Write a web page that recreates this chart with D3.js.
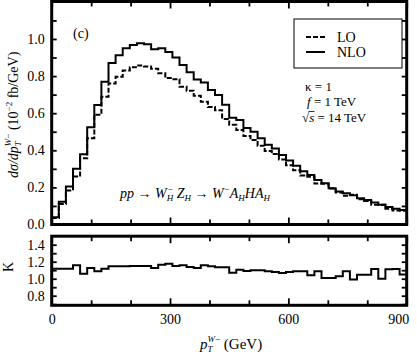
<!DOCTYPE html>
<html>
<head>
<meta charset="utf-8">
<script src="https://cdn.jsdelivr.net/npm/d3@7"></script>
<style>
  body { margin: 0; background: #fff; }
  svg { display: block; }
  text { font-family: "Liberation Serif", "Times New Roman", serif; fill: #000; }
</style>
</head>
<body>
<div id="chart"></div>
<script>
(function() {
  // histogram bins: 50 bins of 18 GeV from 0 to 900
  const BIN_WIDTH = 18;
  const binStarts = d3.range(0, 900, BIN_WIDTH);

  const nloValues = [
    0.039, 0.123, 0.205, 0.300, 0.378, 0.524, 0.644, 0.770, 0.870, 0.912,
    0.950, 0.968, 0.977, 0.972, 0.945, 0.950, 0.930, 0.900, 0.860, 0.820,
    0.782, 0.765, 0.725, 0.698, 0.645, 0.575, 0.563, 0.520, 0.500, 0.465,
    0.430, 0.410, 0.375, 0.345, 0.317, 0.287, 0.267, 0.240, 0.222, 0.196,
    0.178, 0.168, 0.158, 0.142, 0.132, 0.118, 0.106, 0.094, 0.085, 0.078
  ];
  const loValues = [
    0.035, 0.110, 0.183, 0.259, 0.357, 0.465, 0.592, 0.689, 0.760, 0.797,
    0.830, 0.848, 0.857, 0.852, 0.839, 0.815, 0.790, 0.783, 0.743, 0.721,
    0.694, 0.661, 0.633, 0.616, 0.569, 0.537, 0.509, 0.477, 0.455, 0.424,
    0.396, 0.380, 0.351, 0.320, 0.292, 0.264, 0.257, 0.221, 0.220, 0.194,
    0.173, 0.155, 0.160, 0.136, 0.126, 0.106, 0.106, 0.085, 0.076, 0.074
  ];
  const kValues = [
    1.118, 1.118, 1.118, 1.157, 1.059, 1.126, 1.087, 1.118, 1.145, 1.145,
    1.145, 1.149, 1.149, 1.149, 1.126, 1.165, 1.177, 1.149, 1.157, 1.138,
    1.126, 1.157, 1.145, 1.134, 1.134, 1.071, 1.106, 1.090, 1.098, 1.098,
    1.087, 1.079, 1.067, 1.079, 1.087, 1.087, 1.040, 1.087, 1.008, 1.008,
    1.028, 1.087, 0.990, 1.047, 1.047, 1.115, 1.000, 1.110, 1.115, 1.050
  ];

  const xMinorTicks = [100, 200, 400, 500, 700, 800];
  const xMajorTicks = [0, 300, 600, 900];
  const yMinorTicks = [0.1, 0.3, 0.5, 0.7, 0.9, 1.1];
  const yMajorTicks = [0.0, 0.2, 0.4, 0.6, 0.8, 1.0];
  const kMinorTicks = [0.7, 0.9, 1.1, 1.3, 1.5];
  const kMajorTicks = [0.8, 1.0, 1.2, 1.4];
  const FONT = '"Liberation Serif", "Times New Roman", serif';

  const svg = d3.select("#chart").append("svg")
    .attr("width", 417).attr("height", 354);

  const x = d3.scaleLinear().domain([0, 900]).range([51.7, 406.7]);
  const y = d3.scaleLinear().domain([0, 1.202]).range([224.5, 1.5]);
  const yk = d3.scaleLinear().domain([0.687, 1.5]).range([305.3, 236.2]);

  const defs = svg.append("defs");
  defs.append("clipPath").attr("id", "clipTop").append("rect")
    .attr("x", x(0)).attr("y", y(1.202)).attr("width", x(900) - x(0)).attr("height", y(0) - y(1.202));
  defs.append("clipPath").attr("id", "clipK").append("rect")
    .attr("x", x(0)).attr("y", yk(1.5)).attr("width", x(900) - x(0)).attr("height", yk(0.687) - yk(1.5));

  function histPoints(values) {
    const pts = binStarts.map((s, i) => [s, values[i]]);
    pts.push([900, values[values.length - 1]]);
    return pts;
  }

  function drawHist(g, values, yScale, dashed) {
    const line = d3.line()
      .x(d => x(d[0]))
      .y(d => yScale(d[1]))
      .curve(d3.curveStepAfter);
    g.append("path")
      .datum(histPoints(values))
      .attr("d", line)
      .attr("fill", "none")
      .attr("stroke", "#000")
      .attr("stroke-width", 2)
      .attr("stroke-dasharray", dashed ? "5,2" : null);
  }

  function styleAxis(g) {
    g.select(".domain").remove();
    g.selectAll(".tick line").attr("stroke", "#000").attr("stroke-width", 1.8);
    g.attr("font-family", FONT).attr("font-size", 14);
    g.selectAll(".tick text").attr("fill", "#000");
  }

  function frameTicks(yScale, yMinor, yMajor, labels, labelX) {
    const top = yScale.range()[1], bottom = yScale.range()[0];
    svg.append("g").attr("transform", `translate(0,${bottom})`)
      .call(d3.axisBottom(x).tickValues(xMinorTicks).tickSize(-5).tickFormat(""))
      .call(styleAxis);
    svg.append("g").attr("transform", `translate(0,${bottom})`)
      .call(d3.axisBottom(x).tickValues(xMajorTicks).tickSize(-7).tickPadding(9)
        .tickFormat(d => labelX ? String(d) : ""))
      .call(styleAxis)
      .call(g => g.selectAll(".tick text").filter(d => d === 900)
        .attr("text-anchor", "end").attr("x", 2));
    svg.append("g").attr("transform", `translate(0,${top})`)
      .call(d3.axisTop(x).tickValues(xMinorTicks).tickSize(-5).tickFormat(""))
      .call(styleAxis);
    svg.append("g").attr("transform", `translate(0,${top})`)
      .call(d3.axisTop(x).tickValues(xMajorTicks).tickSize(-7).tickFormat(""))
      .call(styleAxis);
    svg.append("g").attr("transform", `translate(${x(0)},0)`)
      .call(d3.axisLeft(yScale).tickValues(yMinor.concat(yMajor)).tickSize(-5).tickPadding(7)
        .tickFormat(d => labels ? (yMajor.indexOf(d) >= 0 ? d.toFixed(1) : "") : ""))
      .call(styleAxis);
    svg.append("g").attr("transform", `translate(${x(900)},0)`)
      .call(d3.axisRight(yScale).tickValues(yMinor.concat(yMajor)).tickSize(-5).tickFormat(""))
      .call(styleAxis);
    svg.append("rect")
      .attr("x", x(0)).attr("y", top)
      .attr("width", x(900) - x(0)).attr("height", bottom - top)
      .attr("fill", "none").attr("stroke", "#000").attr("stroke-width", 3);
  }

  // top panel
  const topG = svg.append("g").attr("clip-path", "url(#clipTop)");
  drawHist(topG, loValues, y, true);
  drawHist(topG, nloValues, y, false);
  frameTicks(y, yMinorTicks.filter(d => d < 1.2), yMajorTicks, true, false);

  // K panel
  const kG = svg.append("g").attr("clip-path", "url(#clipK)");
  drawHist(kG, kValues, yk, false);
  frameTicks(yk, kMinorTicks.filter(d => d > 0.69 && d < 1.5), kMajorTicks, true, true);

  // legend
  const leg = svg.append("g");
  leg.append("rect").attr("x", 294).attr("y", 19).attr("width", 108).attr("height", 49)
    .attr("fill", "#fff").attr("stroke", "#000").attr("stroke-width", 1);
  leg.append("line").attr("x1", 306).attr("x2", 325).attr("y1", 37).attr("y2", 37)
    .attr("stroke", "#000").attr("stroke-width", 2).attr("stroke-dasharray", "5,2");
  leg.append("line").attr("x1", 306).attr("x2", 325).attr("y1", 52).attr("y2", 52)
    .attr("stroke", "#000").attr("stroke-width", 2);
  leg.append("text").attr("x", 337).attr("y", 42).attr("font-size", 14).text("LO");
  leg.append("text").attr("x", 337).attr("y", 57).attr("font-size", 14).text("NLO");

  // annotations
  svg.append("text").attr("x", 73).attr("y", 38).attr("font-size", 14).text("(c)");

  const kap = svg.append("text").attr("x", 305).attr("y", 91).attr("font-size", 13);
  kap.append("tspan").text("\u03BA = 1");
  const ft = svg.append("text").attr("x", 307).attr("y", 106).attr("font-size", 13);
  ft.append("tspan").attr("font-style", "italic").text("f");
  ft.append("tspan").text(" = 1 TeV");
  const st = svg.append("text").attr("x", 302).attr("y", 122).attr("font-size", 13);
  st.append("tspan").text("\u221A");
  st.append("tspan").attr("font-style", "italic").text("s");
  st.append("tspan").text(" = 14 TeV");
  svg.append("line").attr("x1", 308.5).attr("x2", 314.5).attr("y1", 111.5).attr("y2", 111.5)
    .attr("stroke", "#000").attr("stroke-width", 0.8);

  // process label
  const proc = svg.append("text").attr("x", 120).attr("y", 198).attr("font-size", 14)
    .attr("font-style", "italic");
  proc.append("tspan").text("pp ");
  proc.append("tspan").attr("font-style", "normal").text("\u2192 ");
  proc.append("tspan").text("W");
  proc.append("tspan").attr("font-size", 9).attr("dy", 3).text("H");
  proc.append("tspan").attr("font-size", 9).attr("dx", -6).attr("dy", -9).text("\u2212");
  proc.append("tspan").attr("dy", 6).text(" Z");
  proc.append("tspan").attr("font-size", 9).attr("dy", 3).text("H");
  proc.append("tspan").attr("font-style", "normal").attr("dy", -3).text(" \u2192 ");
  proc.append("tspan").text("W");
  proc.append("tspan").attr("font-size", 9).attr("dy", -6).text("\u2212");
  proc.append("tspan").attr("dy", 6).text("A");
  proc.append("tspan").attr("font-size", 9).attr("dy", 3).text("H");
  proc.append("tspan").attr("dy", -3).text("HA");
  proc.append("tspan").attr("font-size", 9).attr("dy", 3).text("H");

  // y axis title
  const yt = svg.append("text").attr("transform", "translate(17.5,178) rotate(-90)")
    .attr("font-size", 14);
  yt.append("tspan").attr("font-style", "italic").text("d\u03C3/dp");
  yt.append("tspan").attr("font-style", "italic").attr("font-size", 9).attr("dy", 3).text("T");
  yt.append("tspan").attr("font-style", "italic").attr("font-size", 9).attr("dx", -5).attr("dy", -10).text("W");
  yt.append("tspan").attr("font-size", 9).text("\u2212");
  yt.append("tspan").attr("dy", 7).text("  (10");
  yt.append("tspan").attr("font-size", 9).attr("dy", -6).text("\u22122");
  yt.append("tspan").attr("dy", 6).text(" fb/GeV)");

  // K title
  svg.append("text").attr("transform", "translate(13,267) rotate(-90)")
    .attr("text-anchor", "middle").attr("font-size", 14).text("K");

  // x axis title
  const xt = svg.append("text").attr("x", 200).attr("y", 349).attr("font-size", 15);
  xt.append("tspan").attr("font-style", "italic").text("p");
  xt.append("tspan").attr("font-style", "italic").attr("font-size", 9).attr("dy", 3).text("T");
  xt.append("tspan").attr("font-style", "italic").attr("font-size", 9).attr("dx", -5).attr("dy", -10).text("W");
  xt.append("tspan").attr("font-size", 9).text("\u2212");
  xt.append("tspan").attr("dy", 7).text("  (GeV)");
})();
</script>
</body>
</html>
